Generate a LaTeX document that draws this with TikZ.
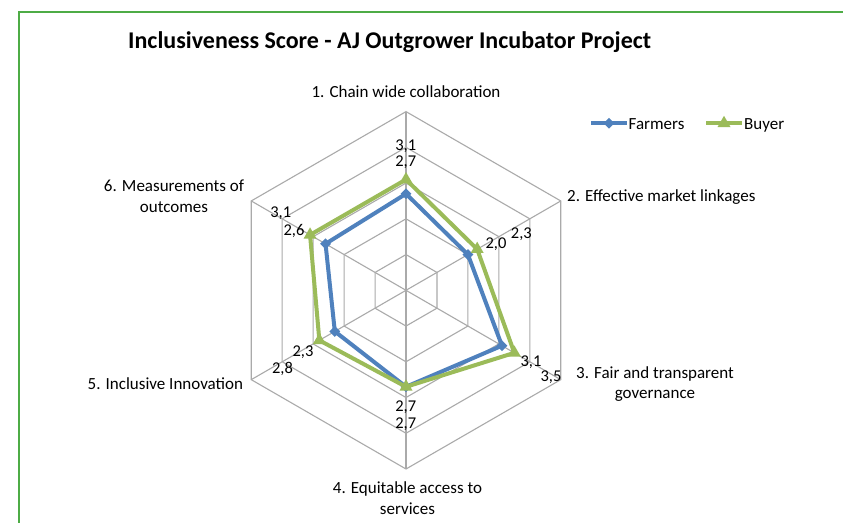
\documentclass[tikz,border=0pt]{standalone}
\usepackage{fontspec}
\setmainfont{Carlito}
\usetikzlibrary{shapes.geometric,calc}
\definecolor{framegreen}{RGB}{78,172,70}
\definecolor{farm}{RGB}{79,129,189}
\definecolor{buy}{RGB}{155,187,89}
\definecolor{gridgray}{RGB}{170,170,170}
\tikzset{
  gridline/.style={draw=gridgray, line width=1.1},
  farmline/.style={draw=farm, line width=4, line join=round, line cap=round},
  buyline/.style={draw=buy, line width=4, line join=round, line cap=round},
  farmmark/.style={diamond, fill=farm, minimum size=11, inner sep=0, aspect=1},
  buymark/.style={regular polygon, regular polygon sides=3, fill=buy, minimum size=15, inner sep=0},
  axislabel/.style={inner sep=0, font=\fontsize{17}{20.3}\selectfont},
  datalabel/.style={inner sep=0, anchor=base, font=\fontsize{16.5}{19}\selectfont},
}
\begin{document}
\begin{tikzpicture}[x=1pt,y=1pt]
\useasboundingbox (0,0) rectangle (843,-522);
\fill[white] (0,0) rectangle (843,-522);
\draw[framegreen, line width=2] (19,-523) -- (19,-12.3) -- (844,-12.3);

% title
\node[inner sep=0, anchor=base west, font=\fontsize{24}{28}\selectfont\bfseries] (title) at (128,-48.8) {Inclusiveness Score - AJ Outgrower Incubator Project};

% grid
\coordinate (C) at (406,-290.3);
\def\unit{35.74}
\foreach \r in {1,...,5}{
  \draw[gridline] ($(C)+(90:\r*\unit)$) -- ($(C)+(30:\r*\unit)$) -- ($(C)+(-30:\r*\unit)$) -- ($(C)+(-90:\r*\unit)$) -- ($(C)+(-150:\r*\unit)$) -- ($(C)+(150:\r*\unit)$) -- cycle;
}
\foreach \a/\n in {90/1,30/2,-30/3,-90/4,-150/5,150/6}{
  \coordinate (v\n) at ($(C)+(\a:5*\unit)$);
  \draw[gridline] (C) -- (v\n);
}

% data points
\foreach \a/\n/\f/\b in {90/1/2.7/3.1, 30/2/2.0/2.3, -30/3/3.1/3.5, -90/4/2.7/2.7, -150/5/2.3/2.8, 150/6/2.6/3.1}{
  \coordinate (fp\n) at ($(C)+(\a:\f*\unit)$);
  \coordinate (bp\n) at ($(C)+(\a:\b*\unit)$);
}
\draw[farmline] (fp1) -- (fp2) -- (fp3) -- (fp4) -- (fp5) -- (fp6) -- cycle;
\foreach \n in {1,...,6}{ \node[farmmark] (fm\n) at (fp\n) {}; }
\draw[buyline] (bp1) -- (bp2) -- (bp3) -- (bp4) -- (bp5) -- (bp6) -- cycle;
\foreach \n in {1,...,6}{ \node[buymark] (bm\n) at (bp\n) {}; }

% axis labels (multi-line nodes: base = baseline of last line)
\node[axislabel, anchor=base] (ax1) at (406,-97.3) {1. Chain wide collaboration};
\node[axislabel, anchor=base west] (ax2) at (567,-201.7) {2. Effective market linkages};
\node[axislabel, anchor=base, align=center] (ax3) at (655,-398.6) {3. Fair and transparent\\governance};
\node[axislabel, anchor=base, align=center] (ax4) at (407.5,-514) {4. Equitable access to\\services};
\node[axislabel, anchor=base east] (ax5) at (243.3,-389.3) {5. Inclusive Innovation};
\node[axislabel, anchor=base, align=center] (ax6) at (174,-212) {6. Measurements of\\outcomes};

% data labels
\node[datalabel] (db1) at (405.7,-150) {3,1};
\node[datalabel] (df1) at (405.7,-166.7) {2,7};
\node[datalabel] (df2) at (496,-248.3) {2,0};
\node[datalabel] (db2) at (521.3,-238.3) {2,3};
\node[datalabel] (df3) at (531,-366.7) {3,1};
\node[datalabel] (db3) at (551,-381.7) {3,5};
\node[datalabel] (df4) at (405.7,-411.7) {2,7};
\node[datalabel] (db4) at (405.7,-428.3) {2,7};
\node[datalabel] (df5) at (303,-356.7) {2,3};
\node[datalabel] (db5) at (282.5,-373.3) {2,8};
\node[datalabel] (db6) at (280.7,-217.3) {3,1};
\node[datalabel] (df6) at (294,-235) {2,6};

% legend
\coordinate (lfa) at (591,-123.3);
\coordinate (lfb) at (627,-123.3);
\draw[farmline, line cap=butt] (lfa) -- (lfb);
\node[farmmark] (lfm) at ($(lfa)!0.5!(lfb)$) {};
\node[axislabel, anchor=base west] (lft) at (628.5,-129) {Farmers};
\coordinate (lba) at (706,-123.3);
\coordinate (lbb) at (742,-123.3);
\draw[buyline, line cap=butt] (lba) -- (lbb);
\node[buymark] (lbm) at ($(lba)!0.5!(lbb)$) {};
\node[axislabel, anchor=base west] (lbt) at (744,-129) {Buyer};
\end{tikzpicture}
\end{document}
